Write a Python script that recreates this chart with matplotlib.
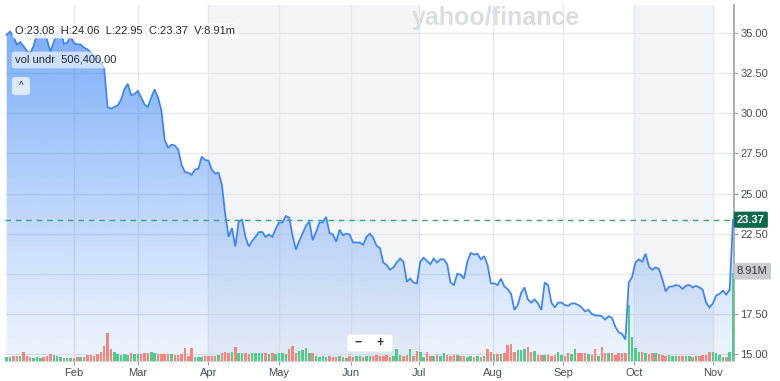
import numpy as np
import matplotlib
matplotlib.use("Agg")
import matplotlib.pyplot as plt
import matplotlib.transforms as mtransforms
from matplotlib.patches import FancyBboxPatch
from matplotlib.colors import to_rgb

plt.rcParams['font.family'] = ['Liberation Sans', 'DejaVu Sans']

# ---------------- data ----------------
close_prices = [
    34.9, 35.1, 34.8, 34.3, 34.45, 34.2, 33.9, 33.75, 34.2, 35.0,
    35.2, 35.1, 34.6, 33.85, 34.45, 35.0, 35.3, 34.35, 34.4, 34.8,
    34.4, 34.3, 34.3, 34.1, 34.0, 33.8, 33.6, 33.5, 33.2, 32.8,
    30.4, 30.3, 30.4, 30.5, 30.85, 31.5, 31.85, 31.15, 31.2, 31.4,
    31.0, 30.55, 30.4, 31.0, 31.5, 31.0, 30.2, 28.35, 27.85, 28.05,
    28.0, 27.75, 26.8, 26.35, 26.3, 26.17, 26.5, 26.55, 27.3, 27.1,
    27.05, 26.5, 26.25, 26.3, 25.55, 23.7, 22.3, 22.85, 21.7, 23.25,
    23.37, 22.3, 21.7, 22.05, 22.3, 22.6, 22.6, 22.3, 22.45, 22.3,
    22.8, 23.2, 23.2, 23.6, 23.5, 22.4, 21.5, 22.05, 22.5, 23.0,
    23.25, 22.1, 22.6, 23.2, 23.2, 23.55, 22.55, 22.45, 22.0, 22.75,
    22.4, 22.5, 22.45, 21.95, 21.95, 21.95, 21.8, 22.3, 22.5, 22.25,
    21.75, 21.6, 20.7, 20.55, 20.25, 20.4, 20.7, 20.95, 20.75, 19.5,
    19.7, 19.45, 19.4, 20.75, 21.0, 20.8, 20.6, 20.95, 20.7, 20.9,
    20.9, 20.6, 19.45, 19.3, 20.0, 19.95, 19.7, 20.75, 21.3, 21.2,
    21.25, 20.9, 21.1, 20.55, 19.4, 19.4, 19.3, 19.7, 19.2, 19.05,
    18.75, 17.75, 18.05, 18.8, 19.15, 18.4, 18.2, 18.4, 18.15, 17.75,
    19.45, 19.3, 18.2, 17.9, 18.2, 18.2, 18.05, 18.0, 18.15, 18.15,
    18.05, 17.9, 17.65, 17.75, 17.5, 17.4, 17.4, 17.35, 17.15, 17.35,
    17.25, 16.7, 16.35, 16.25, 15.9, 19.45, 19.8, 20.7, 20.9, 20.75,
    21.25, 20.45, 20.25, 20.4, 20.3, 19.65, 18.9, 19.2, 19.2, 19.3,
    19.25, 19.05, 19.25, 19.3, 19.15, 19.25, 19.15, 19.0, 18.2, 17.9,
    18.15, 18.65, 18.75, 18.95, 18.7, 19.0, 23.37,
]

volume_millions = [
    0.4, 0.4, 0.5, 0.5, 0.5, 0.9, 0.5, 0.4, 0.3, 0.4,
    0.3, 0.4, 0.5, 0.7, 0.6, 0.5, 0.4, 0.3, 0.3, 0.3,
    0.3, 0.4, 0.4, 0.4, 0.6, 0.6, 0.5, 0.7, 0.9, 1.5,
    2.8, 1.2, 0.9, 0.7, 0.6, 0.7, 0.6, 0.8, 0.7, 0.7,
    0.7, 0.8, 0.8, 0.9, 0.8, 0.7, 0.7, 0.7, 0.7, 0.7,
    0.6, 0.6, 0.7, 1.3, 0.5, 1.3, 0.4, 0.4, 0.4, 0.5,
    0.5, 0.5, 0.5, 0.6, 0.8, 0.9, 0.8, 0.9, 1.4, 0.8,
    0.8, 0.8, 0.7, 0.8, 0.8, 0.8, 0.8, 0.8, 0.7, 0.8,
    0.7, 0.8, 0.8, 0.7, 1.2, 1.5, 0.8, 1.0, 1.1, 1.3,
    0.8, 0.8, 0.5, 0.4, 0.5, 0.4, 0.5, 0.4, 0.4, 0.5,
    0.4, 0.3, 0.5, 0.4, 0.5, 0.5, 0.4, 0.5, 0.5, 0.5,
    0.6, 0.5, 0.5, 0.6, 0.4, 0.5, 1.2, 0.6, 0.5, 0.6,
    1.2, 0.5, 1.0, 0.9, 0.4, 0.9, 0.5, 0.5, 0.6, 0.5,
    0.8, 0.6, 0.5, 0.6, 0.6, 0.5, 0.5, 0.4, 0.5, 0.4,
    0.5, 0.4, 0.5, 1.2, 0.9, 0.7, 0.7, 0.7, 0.8, 1.6,
    1.7, 0.9, 1.1, 1.1, 1.2, 1.4, 0.9, 1.0, 0.6, 0.6,
    0.6, 0.6, 0.5, 0.6, 0.9, 0.6, 0.5, 0.8, 0.7, 1.2,
    0.8, 0.8, 0.8, 0.7, 0.6, 1.2, 0.5, 1.4, 0.8, 0.8,
    0.8, 0.6, 0.8, 0.8, 0.8, 5.7, 2.4, 1.3, 0.9, 0.9,
    0.8, 0.7, 0.8, 0.8, 0.7, 0.6, 0.5, 0.6, 0.5, 0.5,
    0.5, 0.5, 0.5, 0.5, 0.4, 0.5, 0.5, 0.6, 0.6, 0.9,
    0.9, 0.8, 0.6, 0.4, 0.4, 0.9, 8.91,
]

month_labels = ["Feb", "Mar", "Apr", "May", "Jun", "Jul", "Aug", "Sep", "Oct", "Nov"]
month_start_idx = [20.0, 39.0, 60.0, 81.0, 102.5, 122.5, 144.5, 165.5, 186.5, 210.0]
shaded_periods = [("Apr", "Jul"), ("Oct", "Nov")]
price_ticks = [15.0, 17.5, 20.0, 22.5, 25.0, 27.5, 30.0, 32.5, 35.0]
hidden_tick_labels = [20.0]   # covered by the volume badge in the original
last_close = 23.37
ohlc_text = "O:23.08  H:24.06  L:22.95  C:23.37  V:8.91m"
vol_under_text = "vol undr  506,400.00"
last_volume_label = "8.91M"

# ---------------- style ----------------
LINE = "#3a84f5"
UP = "#4fcb8a"
DOWN = "#f7857b"
GRID = "#e6e8eb"
TXT = "#464e56"

W, H = 780, 381
fig = plt.figure(figsize=(W / 100, H / 100), dpi=100)
fig.patch.set_facecolor("white")

def fx(px):
    return px / W

def fy(py):
    return 1 - py / H

ax = fig.add_axes([fx(5), fy(361), fx(734) - fx(5), fy(5) - fy(361)])
ax.set_facecolor("white")

n = len(close_prices)
x = np.arange(n)
prices = np.array(close_prices)
vols = np.array(volume_millions)

xmin, xmax = -0.5, n - 0.7
ymin, ymax = 14.56, 36.76
ax.set_xlim(xmin, xmax)
ax.set_ylim(ymin, ymax)

# shaded bands
pos = dict(zip(month_labels, month_start_idx))
for a, b in shaded_periods:
    ax.axvspan(pos[a], pos[b], color="#f2f4f7", zorder=0, lw=0)

# grid
for t in price_ticks:
    ax.axhline(t, color=GRID, lw=1.0, zorder=1)
for m in month_start_idx:
    ax.axvline(m, color=GRID, lw=1.0, zorder=1)

# gradient area fill
poly = ax.fill_between(x, prices, ymin, color="none", lw=0)
grad = np.linspace(1, 0, 256) ** 1.1
rgba = np.zeros((256, 1, 4))
rgba[..., :3] = to_rgb(LINE)
rgba[..., 3] = (0.09 + 0.62 * grad)[:, None]
im = ax.imshow(rgba, extent=[xmin, xmax, ymin, ymax], aspect="auto",
               origin="upper", zorder=2, interpolation="bilinear")
im.set_clip_path(poly.get_paths()[0], transform=ax.transData)
ax.set_xlim(xmin, xmax)
ax.set_ylim(ymin, ymax)

# volume bars via a blended transform (x data, y volume scaled into axes fraction)
VOL_AXIS_MAX = 36.05
vol_trans = mtransforms.blended_transform_factory(
    ax.transData, mtransforms.Affine2D().scale(1, 1 / VOL_AXIS_MAX) + ax.transAxes)
colors = [UP] + [UP if prices[i] >= prices[i - 1] else DOWN for i in range(1, n)]
ax.bar(x, vols, width=0.74, bottom=0, color=colors, transform=vol_trans,
       zorder=3, lw=0)

# price line
ax.plot(x, prices, color=LINE, lw=1.25, zorder=4, solid_joinstyle="miter")

# last close dashed line
ax.axhline(last_close, color="#3aa37d", lw=1.0, ls=(0, (4, 3.5)), zorder=5)

ax.set_xlim(xmin, xmax)
ax.set_ylim(ymin, ymax)

# axes styling
for s in ["top", "left"]:
    ax.spines[s].set_visible(False)
ax.spines["right"].set_color("#9aa0a6")
ax.spines["right"].set_linewidth(1.2)
ax.spines["bottom"].set_color("#d5d8dc")
ax.spines["bottom"].set_linewidth(1.0)
ax.yaxis.tick_right()
ax.set_yticks(price_ticks)
ax.set_yticklabels(["" if t in hidden_tick_labels else f"{t:.2f}" for t in price_ticks])
ax.tick_params(axis="y", length=3, width=0.8, color="#9aa0a6", pad=1.5,
               labelsize=8, labelcolor=TXT)
ax.set_xticks(month_start_idx)
ax.set_xticklabels(month_labels)
ax.tick_params(axis="x", length=3, width=0.8, color="#9aa0a6", pad=2,
               labelsize=8, labelcolor=TXT)

# right labels
lab_trans = mtransforms.blended_transform_factory(ax.transAxes, ax.transData)
ax.text(1.004, last_close, f"{last_close:.2f}", transform=lab_trans,
        ha="left", va="center", fontsize=8, color="white", fontweight="bold",
        zorder=10, clip_on=False,
        bbox=dict(boxstyle="round,pad=0.28,rounding_size=0.15", fc="#0d6b4d", ec="none"))
vlab_trans = mtransforms.blended_transform_factory(
    ax.transAxes, mtransforms.Affine2D().scale(1, 1 / VOL_AXIS_MAX) + ax.transAxes)
ax.text(1.004, vols[-1] + 0.18, last_volume_label, transform=vlab_trans,
        ha="left", va="center", fontsize=8, color="#30363c",
        zorder=10, clip_on=False,
        bbox=dict(boxstyle="round,pad=0.3,rounding_size=0.15", fc="#c8cbd0", ec="none"))

# overlays
fig.text(fx(15), fy(31), ohlc_text, fontsize=8, color="#232a31", ha="left",
         va="center", zorder=20,
         bbox=dict(boxstyle="round,pad=0.22", fc="white", ec="none", alpha=0.85))
fig.text(fx(15), fy(60), vol_under_text, fontsize=8, color="#232a31", ha="left",
         va="center", zorder=20,
         bbox=dict(boxstyle="round,pad=0.3", fc="white", ec="none", alpha=0.6))
btn = FancyBboxPatch((fx(12), fy(95)), fx(18), fy(77) - fy(95),
                     boxstyle="round,pad=0,rounding_size=0.006",
                     transform=fig.transFigure, fc="white", ec="none",
                     alpha=0.7, zorder=19)
fig.patches.append(btn)
fig.text(fx(21), fy(86), "^", fontsize=7, color="#232a31", ha="center",
         va="center", zorder=20)

fig.text(fx(496), fy(18), "yahoo/finance", fontsize=18, fontweight="bold",
         color="#dadde2", ha="center", va="center", zorder=20)

zb = FancyBboxPatch((fx(347), fy(352)), fx(46), fy(334) - fy(352),
                    boxstyle="round,pad=0,rounding_size=0.004",
                    transform=fig.transFigure, fc="white", ec="#e3e5e8",
                    lw=0.8, zorder=19)
fig.patches.append(zb)
fig.text(fx(358), fy(343), "\u2212", fontsize=9, color="#333a40", ha="center",
         va="center", zorder=20, fontweight="bold")
fig.text(fx(380), fy(343), "+", fontsize=9, color="#333a40", ha="center",
         va="center", zorder=20, fontweight="bold")

fig.savefig("out.png", dpi=100)
